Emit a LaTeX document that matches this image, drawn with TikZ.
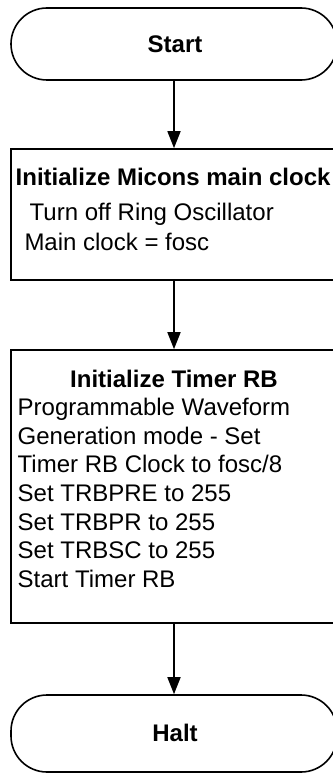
\documentclass[tikz,border=0pt]{standalone}
\usepackage{fontspec}
\setmainfont{Liberation Sans}
\usetikzlibrary{arrows.meta}

\tikzset{
  terminal/.style={draw, line width=1.6pt, rounded corners=36pt, minimum width=326pt, inner sep=0pt},
  procbox/.style={draw, line width=1.6pt, minimum width=326pt, inner sep=0pt},
  heading/.style={font=\fontsize{24pt}{28.5pt}\selectfont\bfseries, inner sep=0pt, anchor=base},
  bodytext/.style={font=\fontsize{24pt}{28.5pt}\selectfont, inner sep=0pt, anchor=base west},
  flow/.style={line width=1.6pt, -{Triangle[width=13pt,length=17pt]}}
}

\begin{document}
\begin{tikzpicture}[x=1pt,y=1pt]
  \useasboundingbox (0,0) rectangle (332,-773);

  % shapes
  \node[terminal, minimum height=72pt] (start) at (174,-44) {};
  \node[procbox, minimum height=131pt] (clk) at (174,-214.5) {};
  \node[procbox, minimum height=273pt] (trb) at (174,-486.5) {};
  \node[terminal, minimum height=77pt] (halt) at (174,-733.5) {};

  % texts
  \node[heading] (startT) at (175,-52.7) {Start};
  \node[heading, anchor=base west] (clkT) at (15.5,-185.7) {Initialize Micons main clock};
  \node[bodytext] (clkA) at (29.5,-220.7) {Turn off Ring Oscillator};
  \node[bodytext] (clkB) at (24.3,-250) {Main clock = fosc};
  \node[heading] (trbT) at (174,-387) {Initialize Timer RB};
  \foreach \txt [count=\i] in {Programmable Waveform, Generation mode - Set,
      Timer RB Clock to fosc/8, Set TRBPRE to 255, Set TRBPR to 255,
      Set TRBSC to 255, Start Timer RB}
    \node[bodytext] (trb\i) at (17.5,{-415.7-28.6*(\i-1)}) {\txt};
  \node[heading] (haltT) at (175,-741.7) {Halt};

  \foreach \from/\to in {start/clk, clk/trb, trb/halt}
    \draw[flow] (\from) -- (\to);

\end{tikzpicture}
\end{document}
